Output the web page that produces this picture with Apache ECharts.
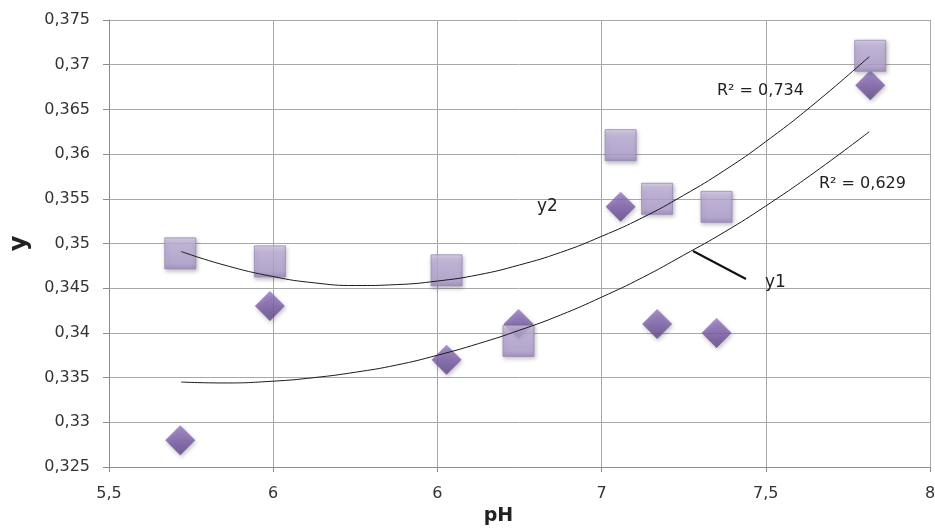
<!DOCTYPE html>
<html>
<head>
<meta charset="utf-8">
<title>y1, y2 vs pH</title>
<script src="https://cdn.jsdelivr.net/npm/echarts@6/dist/echarts.min.js"></script>
<style>
  html, body { margin: 0; padding: 0; background: #fff; }
  #chart { width: 935px; height: 528px; }
</style>
</head>
<body>
<div id="chart"></div>
<script>
// pH values of the samples
const phValues = [5.717, 5.99, 6.528, 6.747, 7.058, 7.169, 7.35, 7.818];
// y1 (diamonds) and y2 (squares)
const y1Values = [0.3280, 0.3430, 0.3370, 0.3410, 0.3541, 0.3410, 0.3400, 0.3677];
const y2Values = [0.3489, 0.3480, 0.3470, 0.3391, 0.3610, 0.3550, 0.3541, 0.3710];

// polynomial trendlines
const trendX = [5.72, 5.85, 6.0, 6.125, 6.25, 6.375, 6.5, 6.625, 6.75, 6.875, 7.0, 7.125, 7.25, 7.375, 7.5, 7.65, 7.815];
const trendY1 = [0.3345, 0.3344, 0.3346, 0.3350, 0.3356, 0.3364, 0.3375, 0.3388, 0.3403, 0.3420, 0.3440, 0.3462, 0.3487, 0.3513, 0.3542, 0.3580, 0.3625];
const trendY2 = [0.3491, 0.3476, 0.3463, 0.3456, 0.3453, 0.3454, 0.3458, 0.3465, 0.3476, 0.3490, 0.3508, 0.3529, 0.3554, 0.3582, 0.3614, 0.3657, 0.3709];

// x tick labels as printed on the chart
const xTickValues = [5.5, 6, 6.5, 7, 7.5, 8];
const xTickLabels = ['5,5', '6', '6', '7', '7,5', '8'];

const FONT = 'DejaVu Sans';

function zip(xs, ys) {
  return xs.map((x, i) => [x, ys[i]]);
}

function note(text, x, y, size) {
  return {
    type: 'text', x: x, y: y, z: 10,
    style: {
      text: text, fontFamily: FONT, fontSize: size, fill: '#222',
      align: 'left', verticalAlign: 'middle'
    }
  };
}

let chart = echarts.init(document.getElementById('chart'));
let option = {
  animation: false,
  backgroundColor: '#fff',
  grid: {
    left: 109,
    right: 5,
    top: 20,
    bottom: 61,
    outerBoundsMode: 'none'
  },
  xAxis: {
    type: 'value',
    min: 5.5,
    max: 8,
    interval: 0.5,
    name: 'pH',
    nameLocation: 'middle',
    nameGap: 37,
    nameTextStyle: {
      fontFamily: FONT,
      fontWeight: 'bold',
      fontSize: 19,
      color: '#222',
      padding: [0, 42, 0, 0]
    },
    axisLine: { lineStyle: { color: '#8c8c8c' } },
    axisTick: { show: true, length: 5, lineStyle: { color: '#8c8c8c' } },
    axisLabel: {
      margin: 19,
      fontFamily: FONT,
      fontSize: 16,
      color: '#333',
      formatter: (v) => {
        let i = xTickValues.findIndex(t => Math.abs(t - v) < 1e-9);
        return i >= 0 ? xTickLabels[i] : '';
      }
    },
    splitLine: { show: true, lineStyle: { color: '#a8a8a8' } }
  },
  yAxis: {
    type: 'value',
    min: 0.325,
    max: 0.375,
    interval: 0.005,
    name: 'y',
    nameLocation: 'middle',
    nameRotate: 90,
    nameGap: 77,
    nameTextStyle: {
      fontFamily: FONT,
      fontWeight: 'bold',
      fontSize: 24,
      color: '#222'
    },
    axisLine: { show: true, lineStyle: { color: '#8c8c8c' } },
    axisTick: { show: true, length: 6, lineStyle: { color: '#8c8c8c' } },
    axisLabel: {
      margin: 19,
      fontFamily: FONT,
      fontSize: 16,
      color: '#333',
      formatter: (v) => String(+v.toFixed(3)).replace('.', ',')
    },
    splitLine: { show: true, lineStyle: { color: '#a8a8a8' } }
  },
  series: [
    {
      name: 'y1',
      type: 'scatter',
      symbol: 'diamond',
      symbolSize: 30,
      z: 2,
      itemStyle: {
        color: new echarts.graphic.LinearGradient(0, 0, 0, 1, [
          { offset: 0, color: '#957ac0' },
          { offset: 0.5, color: '#7a5ca7' },
          { offset: 1, color: '#5c4287' }
        ]),
        shadowBlur: 4,
        shadowOffsetX: 1,
        shadowOffsetY: 2,
        shadowColor: 'rgba(0,0,0,0.3)'
      },
      data: zip(phValues, y1Values)
    },
    {
      name: 'y2',
      type: 'scatter',
      symbol: 'rect',
      symbolSize: 31,
      z: 3,
      itemStyle: {
        color: new echarts.graphic.LinearGradient(0, 0, 0, 1, [
          { offset: 0, color: '#d6cbe9' },
          { offset: 0.25, color: '#bcadd8' },
          { offset: 0.8, color: '#b1a0cf' },
          { offset: 1, color: '#9a87bc' }
        ]),
        borderColor: '#9887b8',
        borderWidth: 1,
        shadowBlur: 4,
        shadowOffsetX: 1,
        shadowOffsetY: 2,
        shadowColor: 'rgba(0,0,0,0.3)'
      },
      data: zip(phValues, y2Values)
    },
    {
      name: 'trend y1',
      type: 'line',
      smooth: true,
      showSymbol: false,
      z: 5,
      lineStyle: { color: '#1a1a1a', width: 1 },
      data: zip(trendX, trendY1)
    },
    {
      name: 'trend y2',
      type: 'line',
      smooth: true,
      showSymbol: false,
      z: 5,
      lineStyle: { color: '#1a1a1a', width: 1 },
      data: zip(trendX, trendY2)
    }
  ],
  graphic: [
    note('R² = 0,734', 717, 91, 16),
    note('R² = 0,629', 819, 184, 16),
    note('y2', 537, 207, 17),
    note('y1', 765, 283, 17),
    {
      type: 'line', z: 10,
      shape: { x1: 693, y1: 251, x2: 746, y2: 279 },
      style: { stroke: '#111', lineWidth: 2 }
    }
  ]
};
chart.setOption(option);
</script>
</body>
</html>
